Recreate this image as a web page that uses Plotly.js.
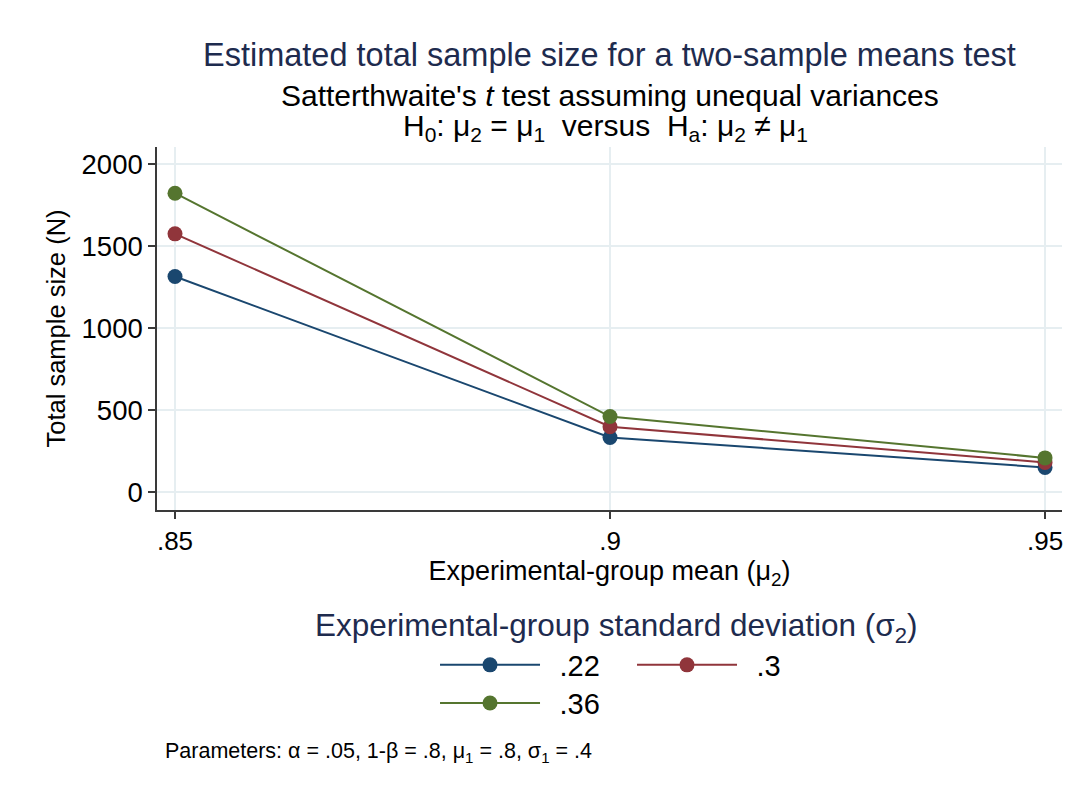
<!DOCTYPE html>
<html>
<head>
<meta charset="utf-8">
<script src="https://cdn.plot.ly/plotly-3.0.1.min.js"></script>
<style>html,body{margin:0;padding:0;background:#fff;}</style>
</head>
<body>
<div id="chart" style="width:1078px;height:788px;"></div>
<script>
// Data
const muValues = [0.85, 0.9, 0.95];
const xTickLabels = ['.85', '.9', '.95'];
const yTickValues = [0, 500, 1000, 1500, 2000];
const yTickLabels = ['0', '500', '1000', '1500', '2000'];
const seriesNames = ['.22', '.3', '.36'];
const sd22 = [1314, 332, 150];
const sd30 = [1574, 398, 180];
const sd36 = [1822, 460, 208];

const colors = ['#1a476f', '#90353b', '#55752f'];
const FONT = 'Liberation Sans, Arial, sans-serif';

const seriesValues = [sd22, sd30, sd36];
const legendIds = ['legend', 'legend', 'legend2'];
const traces = seriesValues.map((vals, i) => ({
  type: 'scatter',
  mode: 'lines+markers',
  x: muValues,
  y: vals,
  name: '\u2002' + seriesNames[i],
  legend: legendIds[i],
  line: {color: colors[i], width: 2},
  marker: {color: colors[i], size: 15},
  hoverinfo: 'x+y+name'
}));

const axisColor = '#3a3a3a';
const gridColor = '#e6eef1';

const layout = {
  width: 1078,
  height: 788,
  margin: {l: 157, r: 16, t: 147, b: 278, pad: 0},
  paper_bgcolor: '#ffffff',
  plot_bgcolor: '#ffffff',
  font: {family: FONT, color: '#000000'},
  xaxis: {
    range: [0.84793, 0.95195],
    tickvals: muValues,
    ticktext: xTickLabels,
    showgrid: true, gridcolor: gridColor, gridwidth: 1.5,
    zeroline: false,
    showline: true, linecolor: axisColor, linewidth: 1.5,
    ticks: 'outside', ticklen: 7, tickwidth: 1.5, tickcolor: axisColor,
    tickfont: {family: FONT, size: 26, color: '#000'},
    title: {text: 'Experimental-group mean (μ<sub>2</sub>)', font: {family: FONT, size: 27, color: '#000'}, standoff: 2}
  },
  yaxis: {
    range: [-109.8, 2103.7],
    tickvals: yTickValues,
    ticktext: yTickLabels,
    showgrid: true, gridcolor: gridColor, gridwidth: 1.5,
    zeroline: false,
    showline: true, linecolor: axisColor, linewidth: 1.5,
    ticks: 'outside', ticklen: 7, tickwidth: 1.5, tickcolor: axisColor,
    tickfont: {family: FONT, size: 27.5, color: '#000'},
    title: {text: 'Total sample size (N)', font: {family: FONT, size: 25.5, color: '#000'}, standoff: 9}
  },
  showlegend: true,
  legend: {
    orientation: 'h', x: 0.3072, xanchor: 'left', y: -0.427, yanchor: 'middle',
    font: {family: FONT, size: 29, color: '#000'},
    bgcolor: 'rgba(0,0,0,0)', entrywidth: 82, itemwidth: 100
  },
  legend2: {
    orientation: 'h', x: 0.3072, xanchor: 'left', y: -0.532, yanchor: 'middle',
    font: {family: FONT, size: 29, color: '#000'},
    bgcolor: 'rgba(0,0,0,0)', entrywidth: 82, itemwidth: 100
  },
  annotations: [
    {text: 'Estimated total sample size for a two-sample means test', xref: 'paper', yref: 'paper',
     x: 0.5, y: 1.2534, xanchor: 'center', yanchor: 'middle', showarrow: false,
     font: {family: FONT, size: 32.5, color: '#1e2b4e'}},
    {text: "Satterthwaite's <i>t</i> test assuming unequal variances", xref: 'paper', yref: 'paper',
     x: 0.5, y: 1.142, xanchor: 'center', yanchor: 'middle', showarrow: false,
     font: {family: FONT, size: 30, color: '#000'}},
    {text: 'H<sub>0</sub>: μ<sub>2</sub> = μ<sub>1</sub>  versus  H<sub>a</sub>: μ<sub>2</sub> ≠ μ<sub>1</sub>', xref: 'paper', yref: 'paper',
     x: 0.496, y: 1.055, xanchor: 'center', yanchor: 'middle', showarrow: false,
     font: {family: FONT, size: 30, color: '#000'}},
    {text: 'Experimental-group standard deviation (σ<sub>2</sub>)', xref: 'paper', yref: 'paper',
     x: 0.508, y: -0.325, xanchor: 'center', yanchor: 'middle', showarrow: false,
     font: {family: FONT, size: 31.5, color: '#1e2b4e'}},
    {text: 'Parameters: α = .05, 1-β = .8, μ<sub>1</sub> = .8, σ<sub>1</sub> = .4', xref: 'paper', yref: 'paper',
     x: 0.0066, y: -0.667, xanchor: 'left', yanchor: 'middle', showarrow: false,
     font: {family: FONT, size: 21.5, color: '#000'}}
  ]
};

Plotly.newPlot('chart', traces, layout, {displayModeBar: false, responsive: false});
</script>
</body>
</html>
